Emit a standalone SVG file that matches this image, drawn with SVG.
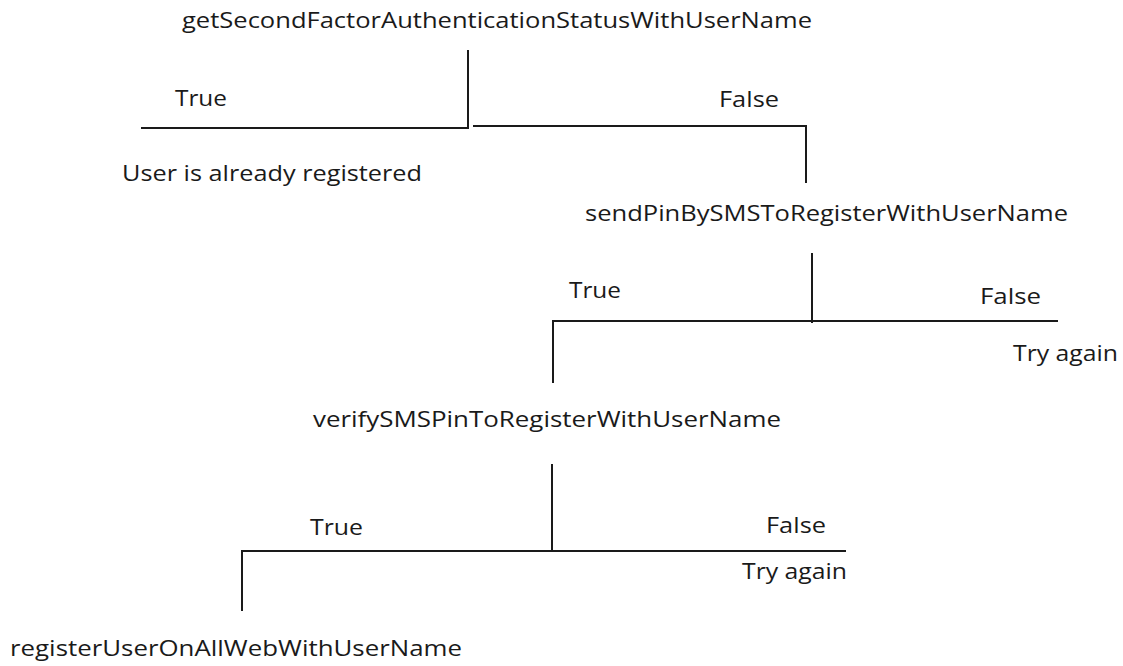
<svg xmlns="http://www.w3.org/2000/svg" width="1123" height="666" viewBox="0 0 1123 666">
  <style>
    .lbl { font-family: "Open Sans", "Liberation Sans", sans-serif; font-size: 21px; fill: #1a1a1a; }
    .wire { stroke: #1a1a1a; stroke-width: 2; fill: none; }
  </style>
  <rect width="1123" height="666" fill="#ffffff"/>

  <!-- decision branches -->
  <g id="connectors">
    <polyline class="wire" points="468,50 468,128 141,128"/>
    <polyline class="wire" points="473,126 806,126 806,183"/>
    <line class="wire" x1="812" y1="253" x2="812" y2="323"/>
    <polyline class="wire" points="553,383 553,321 1058,321"/>
    <line class="wire" x1="552" y1="464" x2="552" y2="551"/>
    <polyline class="wire" points="242,611 242,551 846,551"/>
  </g>

  <g id="node-get-status">
    <text class="lbl" x="182" y="28" textLength="630" lengthAdjust="spacingAndGlyphs">getSecondFactorAuthenticationStatusWithUserName</text>
  </g>
  <g id="branch-1">
    <text class="lbl" x="175" y="106" textLength="52" lengthAdjust="spacingAndGlyphs">True</text>
    <text class="lbl" x="719" y="107" textLength="60" lengthAdjust="spacingAndGlyphs">False</text>
  </g>
  <g id="node-already-registered">
    <text class="lbl" x="122" y="181" textLength="300" lengthAdjust="spacingAndGlyphs">User is already registered</text>
  </g>

  <g id="node-send-pin">
    <text class="lbl" x="585" y="221" textLength="483" lengthAdjust="spacingAndGlyphs">sendPinBySMSToRegisterWithUserName</text>
  </g>
  <g id="branch-2">
    <text class="lbl" x="569" y="298" textLength="52" lengthAdjust="spacingAndGlyphs">True</text>
    <text class="lbl" x="980" y="304" textLength="61" lengthAdjust="spacingAndGlyphs">False</text>
    <text class="lbl" x="1013" y="361" textLength="105" lengthAdjust="spacingAndGlyphs">Try again</text>
  </g>

  <g id="node-verify-pin">
    <text class="lbl" x="313" y="427" textLength="468" lengthAdjust="spacingAndGlyphs">verifySMSPinToRegisterWithUserName</text>
  </g>
  <g id="branch-3">
    <text class="lbl" x="310" y="535" textLength="53" lengthAdjust="spacingAndGlyphs">True</text>
    <text class="lbl" x="766" y="533" textLength="60" lengthAdjust="spacingAndGlyphs">False</text>
    <text class="lbl" x="742" y="579" textLength="105" lengthAdjust="spacingAndGlyphs">Try again</text>
  </g>

  <g id="node-register-user">
    <text class="lbl" x="10" y="656" textLength="452" lengthAdjust="spacingAndGlyphs">registerUserOnAllWebWithUserName</text>
  </g>
</svg>
